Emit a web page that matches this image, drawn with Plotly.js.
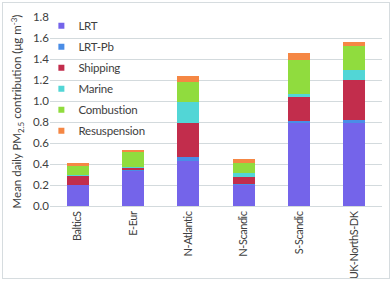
<!DOCTYPE html>
<html><head><meta charset="utf-8">
<script src="https://cdn.plot.ly/plotly-3.0.1.min.js"></script>
<style>
html,body{margin:0;padding:0;background:#fff;}
#wrap{position:relative;width:392px;height:281px;}
#chart{width:392px;height:281px;}
#frame{position:absolute;left:2px;top:2px;width:386px;height:275px;border:1.5px solid #d6dcdf;pointer-events:none;}
.xtick text{letter-spacing:-0.45px;}
.legendtext{letter-spacing:-0.2px;}
</style></head>
<body><div id="wrap"><div id="chart"></div><div id="frame"></div></div>
<script>
const categories = ["BalticS","E-Eur","N-Atlantic","N-Scandic","S-Scandic","UK-NorthS-DK"];
const seriesNames = ["LRT","LRT-Pb","Shipping","Marine","Combustion","Resuspension"];
const LRT          = [0.20, 0.335, 0.43, 0.20, 0.795, 0.79];
const LRT_Pb       = [0.004, 0.005, 0.035, 0.005, 0.015, 0.03];
const Shipping     = [0.086, 0.025, 0.33, 0.075, 0.225, 0.38];
const Marine       = [0.005, 0.005, 0.20, 0.03, 0.035, 0.10];
const Combustion   = [0.09, 0.14, 0.185, 0.10, 0.32, 0.22];
const Resuspension = [0.025, 0.02, 0.06, 0.035, 0.065, 0.04];
const seriesValues = [LRT, LRT_Pb, Shipping, Marine, Combustion, Resuspension];
const colors = ["#7464ea","#4a8de6","#c22d4c","#52d6d6","#90dc3e","#f58744"];
const yTicks = [0,0.2,0.4,0.6,0.8,1.0,1.2,1.4,1.6,1.8];

const FONT = "Lato, 'Open Sans', sans-serif";
const traces = seriesNames.map((n,i)=>({
  type:"bar", name:n, x:categories, y:seriesValues[i],
  marker:{color:colors[i], line:{width:0}},
  legendgroup:"g"+i, hoverinfo:"skip"
}));

const layout = {
  width:392, height:281,
  margin:{l:50,r:10,t:17,b:75},
  barmode:"stack", bargap:0.6,
  paper_bgcolor:"#fff", plot_bgcolor:"#fff",
  font:{family:FONT, size:11.5, color:"#404040"},
  showlegend:true,
  legend:{x:-0.035, y:1.03, xanchor:"left", yanchor:"top", traceorder:"grouped", tracegroupgap:2,
          font:{family:FONT,size:11.5,color:"#404040"}, bgcolor:"rgba(0,0,0,0)", itemwidth:30},
  xaxis:{tickangle:-90, showgrid:false, showline:true, linecolor:"#d3dadd", linewidth:1,
         ticks:"", tickfont:{family:FONT,size:11,color:"#404040"}, fixedrange:true},
  yaxis:{range:[0,1.8], tickvals:yTicks, ticktext:yTicks.map(v=>v.toFixed(1)),
         showgrid:true, gridcolor:"#d3dadd", gridwidth:1, zeroline:false, showline:false,
         ticks:"", ticklen:0, tickfont:{family:FONT,size:11.5,color:"#404040"},
         title:{text:"Mean daily PM<sub>2.5</sub> contribution (\u03bcg m<sup>-3</sup>)", font:{family:FONT,size:11.5,color:"#404040"}, standoff:8},
         fixedrange:true}
};

Plotly.newPlot("chart", traces, layout, {displayModeBar:false, staticPlot:true}).then(gd=>{
  document.querySelectorAll(".legend .legendpoints path").forEach(p=>{
    p.setAttribute("transform","translate(23,0) scale(0.5)");
  });
});
</script></body></html>
